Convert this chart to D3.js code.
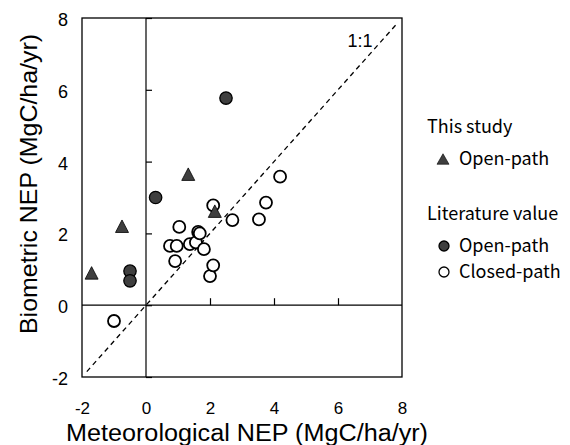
<!DOCTYPE html>
<html>
<head>
<meta charset="utf-8">
<script src="https://cdn.jsdelivr.net/npm/d3@7"></script>
<style>
  body { margin: 0; background: #fff; }
  svg { display: block; }
</style>
</head>
<body>
<svg id="chart" width="570" height="445"></svg>
<script>
// ---- data (x = Meteorological NEP, y = Biometric NEP) ----
const studyOpenX = [-1.7, -0.75, 1.32, 2.15];
const studyOpenY = [0.9, 2.2, 3.65, 2.62];

const litOpenX = [-0.5, -0.5, 0.3, 2.5];
const litOpenY = [0.95, 0.68, 3.0, 5.77];

const litClosedX = [-1.0, 0.75, 0.96, 0.91, 1.04, 1.37, 1.56, 1.63, 1.68, 1.81, 2.0, 2.1, 2.1, 2.7, 3.53, 3.75, 4.19];
const litClosedY = [-0.44, 1.65, 1.65, 1.23, 2.18, 1.70, 1.75, 2.04, 2.0, 1.56, 0.81, 1.11, 2.78, 2.37, 2.39, 2.86, 3.58];

const tickValues = [-2, 0, 2, 4, 6, 8];
const innerTicks = [2, 4, 6];
const oneToOne = [-1.85, 7.85];

const legendItems = [
  { header: "This study" },
  { label: "Open-path", kind: "triangle" },
  { header: "Literature value" },
  { label: "Open-path", kind: "filled" },
  { label: "Closed-path", kind: "open" }
];

// ---- layout ----
const svg = d3.select("#chart");
const L = 82, R = 402, T = 18, B = 377;
const x = d3.scaleLinear().domain([-2, 8]).range([L, R]);
const y = d3.scaleLinear().domain([-2, 8]).range([B, T]);
const arial = "'Liberation Sans', Arial, sans-serif";
const cjk = "'Noto Sans CJK JP', 'Noto Sans', sans-serif";
const dark = "#3f3f3f";
const fmt = d => String(d);

function triPath(cx, cy, w, h) {
  return `M${cx},${cy - h / 2}L${cx + w / 2},${cy + h / 2}L${cx - w / 2},${cy + h / 2}Z`;
}

// frame
svg.append("rect").attr("x", L).attr("y", T).attr("width", R - L).attr("height", B - T)
  .attr("fill", "none").attr("stroke", "#000").attr("stroke-width", 1.3);

// zero lines
svg.append("line").attr("x1", x(0)).attr("x2", x(0)).attr("y1", T).attr("y2", B)
  .attr("stroke", "#000").attr("stroke-width", 1.2);
svg.append("line").attr("x1", L).attr("x2", R).attr("y1", y(0)).attr("y2", y(0))
  .attr("stroke", "#000").attr("stroke-width", 1.2);

// inner ticks on zero lines
const yIn = svg.append("g").attr("transform", `translate(${x(0)},0)`)
  .call(d3.axisRight(y).tickValues(tickValues).tickSize(6).tickFormat(""));
yIn.select(".domain").remove();
yIn.selectAll("line").attr("stroke-width", 1.2);
const xIn = svg.append("g").attr("transform", `translate(0,${y(0)})`)
  .call(d3.axisTop(x).tickValues(innerTicks).tickSize(7).tickFormat(""));
xIn.select(".domain").remove();
xIn.selectAll("line").attr("stroke-width", 1.2);

// tick labels
const yLab = svg.append("g").attr("transform", `translate(${L},0)`)
  .call(d3.axisLeft(y).tickValues(tickValues).tickSize(0).tickPadding(14).tickFormat(fmt));
yLab.select(".domain").remove();
yLab.selectAll("text").attr("font-family", arial).attr("font-size", 18).attr("fill", "#000").attr("dy", "0.42em");

const xLab = svg.append("g").attr("transform", `translate(0,${B})`)
  .call(d3.axisBottom(x).tickValues(tickValues).tickSize(0).tickPadding(25).tickFormat(fmt));
xLab.select(".domain").remove();
xLab.selectAll("text").attr("font-family", arial).attr("font-size", 17).attr("fill", "#000");

// 1:1 line
svg.append("line")
  .attr("x1", x(oneToOne[0])).attr("y1", y(oneToOne[0]))
  .attr("x2", x(oneToOne[1])).attr("y2", y(oneToOne[1]))
  .attr("stroke", "#000").attr("stroke-width", 1.3).attr("stroke-dasharray", "5,4");
svg.append("text").attr("x", 360).attr("y", 47).attr("text-anchor", "middle")
  .attr("font-family", arial).attr("font-size", 18).text("1:1");

// points
const closed = litClosedX.map((v, i) => [v, litClosedY[i]]);
const lopen = litOpenX.map((v, i) => [v, litOpenY[i]]);
const sopen = studyOpenX.map((v, i) => [v, studyOpenY[i]]);

svg.append("g").selectAll("circle").data(closed).join("circle")
  .attr("cx", d => x(d[0])).attr("cy", d => y(d[1])).attr("r", 6)
  .attr("fill", "#fff").attr("stroke", "#000").attr("stroke-width", 1.8);
svg.append("g").selectAll("circle").data(lopen).join("circle")
  .attr("cx", d => x(d[0])).attr("cy", d => y(d[1])).attr("r", 6.2)
  .attr("fill", dark).attr("stroke", "#000").attr("stroke-width", 1.3);
svg.append("g").selectAll("path").data(sopen).join("path")
  .attr("d", d => triPath(x(d[0]), y(d[1]), 13, 12.5))
  .attr("fill", dark).attr("stroke", "#000").attr("stroke-width", 0.8);

// axis titles
svg.append("text").attr("x", 247).attr("y", 441).attr("text-anchor", "middle")
  .attr("font-family", arial).attr("font-size", 23)
  .attr("textLength", 362).attr("lengthAdjust", "spacingAndGlyphs")
  .text("Meteorological NEP (MgC/ha/yr)");
svg.append("text").attr("transform", "translate(37,184) rotate(-90)").attr("text-anchor", "middle")
  .attr("font-family", arial).attr("font-size", 24)
  .attr("textLength", 300).attr("lengthAdjust", "spacingAndGlyphs")
  .text("Biometric NEP (MgC/ha/yr)");

// legend
const legY = [133, 165, 220, 252, 278];
const lg = svg.append("g");
legendItems.forEach((it, i) => {
  if (it.header) {
    lg.append("text").attr("x", 427).attr("y", legY[i]).attr("font-family", cjk)
      .attr("font-size", 18).text(it.header);
  } else {
    const my = legY[i] - 6;
    if (it.kind === "triangle") {
      lg.append("path").attr("d", triPath(443, my, 12, 10.5)).attr("fill", dark).attr("stroke", "#000").attr("stroke-width", 0.6);
    } else {
      lg.append("circle").attr("cx", 444).attr("cy", my).attr("r", 5)
        .attr("fill", it.kind === "filled" ? dark : "#fff").attr("stroke", "#000").attr("stroke-width", 1.3);
    }
    lg.append("text").attr("x", 459).attr("y", legY[i]).attr("font-family", cjk)
      .attr("font-size", 18).text(it.label);
  }
});
</script>
</body>
</html>
